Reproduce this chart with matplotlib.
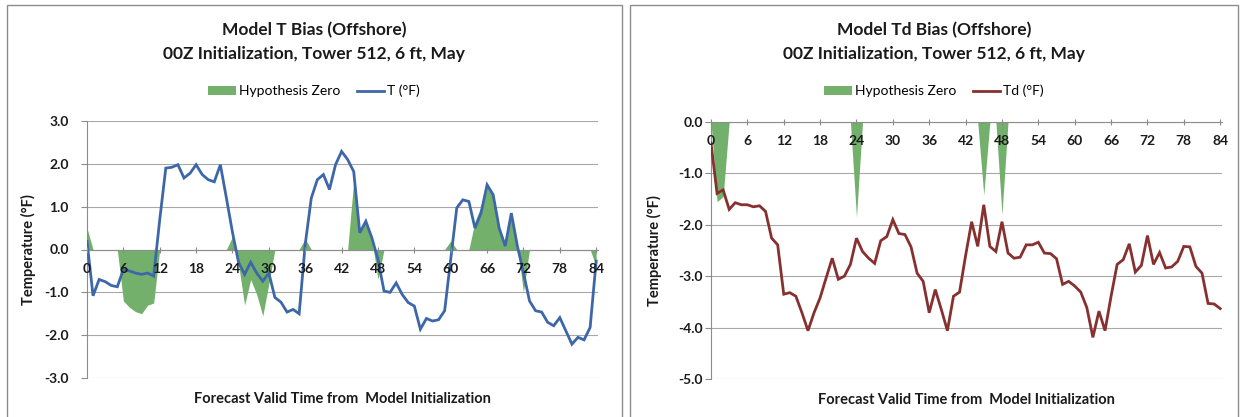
import matplotlib
matplotlib.use("Agg")
import matplotlib.pyplot as plt
from matplotlib.patches import Rectangle, Patch
from matplotlib.lines import Line2D
import numpy as np

plt.rcParams['font.family'] = ['Lato', 'DejaVu Sans']

# forecast hour 0..84, one value per hour
hours = np.arange(85)

t_bias = [0.19, -1.08, -0.70, -0.75, -0.84, -0.87, -0.47, -0.50, -0.55, -0.58,
          -0.55, -0.62, 0.70, 1.90, 1.92, 1.98, 1.67, 1.78, 1.98, 1.75,
          1.63, 1.58, 1.98, 1.20, 0.40, -0.30, -0.58, -0.30, -0.55, -0.74,
          -0.55, -1.12, -1.23, -1.46, -1.40, -1.50, 0.12, 1.20, 1.63, 1.75,
          1.40, 1.98, 2.29, 2.10, 1.82, 0.39, 0.66, 0.27, -0.23, -0.97,
          -1.00, -0.78, -1.05, -1.24, -1.32, -1.86, -1.61, -1.67, -1.64, -1.43,
          -0.23, 0.97, 1.16, 1.12, 0.50, 0.85, 1.51, 1.28, 0.50, 0.08,
          0.85, 0.08, -0.54, -1.20, -1.43, -1.46, -1.70, -1.78, -1.59, -1.90,
          -2.21, -2.05, -2.11, -1.82, -0.27]

t_hyp = [0.50, 0, 0, 0, 0, 0, -1.20, -1.35, -1.45, -1.50,
         -1.30, -1.25, 0, 0, 0, 0, 0, 0, 0, 0,
         0, 0, 0, 0, 0.30, -0.35, -1.30, -0.70, -1.05, -1.55,
         -0.80, 0, 0, 0, 0, 0, 0.25, 0, 0, 0,
         0, 0, 0, 0, 1.60, 0.40, 0.65, 0.25, -0.70, 0,
         0, 0, 0, 0, 0, 0, 0, 0, 0, 0,
         0.20, 0, 0, 0, 0.65, 1.00, 1.55, 1.30, 0.50, 0.10,
         0.85, 0.10, -1.00, 0, 0, 0, 0, 0, 0, 0,
         0, 0, 0, 0, -0.40]

td_bias = [-0.41, -1.39, -1.32, -1.70, -1.57, -1.61, -1.61, -1.65, -1.63, -1.74,
           -2.26, -2.39, -3.35, -3.32, -3.39, -3.71, -4.06, -3.71, -3.42, -3.03,
           -2.65, -3.06, -3.00, -2.77, -2.26, -2.52, -2.65, -2.75, -2.31, -2.23,
           -1.90, -2.17, -2.19, -2.43, -2.94, -3.10, -3.71, -3.26, -3.65, -4.06,
           -3.39, -3.31, -2.60, -1.94, -2.42, -1.61, -2.42, -2.52, -1.94, -2.55,
           -2.65, -2.63, -2.39, -2.39, -2.34, -2.55, -2.56, -2.66, -3.16, -3.10,
           -3.19, -3.31, -3.61, -4.19, -3.68, -4.06, -3.39, -2.77, -2.68, -2.37,
           -2.92, -2.79, -2.21, -2.77, -2.54, -2.84, -2.82, -2.71, -2.42, -2.43,
           -2.81, -2.94, -3.53, -3.54, -3.63]

td_hyp = np.zeros(85)
td_hyp[[1, 2, 24, 45, 48]] = [-1.55, -1.45, -1.85, -1.42, -1.80]

xticks = np.arange(0, 85, 6)

green = '#72b06c'
grid_c = '#a8a8a8'
txt = '#1a1a1a'

fig = plt.figure(figsize=(12.42, 4.17), dpi=100)
W, H = 1242, 417

# chart frames
for x0, x1 in [(7, 622), (630, 1238)]:
    fig.patches.append(Rectangle((x0 / W, -0.02), (x1 - x0) / W, 1 - 5 / H + 0.02,
                                 transform=fig.transFigure, fill=False,
                                 edgecolor='#8c8c8c', lw=1.0))


def panel(rect, yv, hyp, color, ylim, yticks, title, name, ypad, cx):
    ax = fig.add_axes(rect)
    ax.fill_between(hours, hyp, 0, color=green, lw=0, zorder=2)
    ax.plot(hours, yv, color=color, lw=2.0, zorder=3, solid_joinstyle='miter')
    ax.set_xlim(0, 84.3)
    ax.set_ylim(*ylim)
    ax.set_yticks(yticks)
    ax.set_yticklabels([f'{v:.1f}' for v in yticks])
    ax.set_xticks(xticks)
    ax.set_xticklabels([str(v) for v in xticks])
    for v in yticks:
        ax.axhline(v, color=grid_c, lw=0.8, zorder=1)
    for s in ['top', 'right']:
        ax.spines[s].set_visible(False)
    ax.spines['left'].set_color('#8c8c8c')
    ax.spines['bottom'].set_color('#8c8c8c')
    ax.spines['bottom'].set_position(('data', 0))
    ax.xaxis.set_zorder(4)
    ax.tick_params(axis='x', direction='inout', length=5, color='#8c8c8c',
                   labelsize=10, pad=7, labelcolor=txt)
    ax.tick_params(axis='y', direction='out', length=4, color='#8c8c8c',
                   labelsize=10, pad=ypad, labelcolor=txt)
    for lab in ax.get_yticklabels() + ax.get_xticklabels():
        lab.set_fontweight('bold')
    ax.set_ylabel('Temperature (°F)', fontsize=10.5, fontweight='bold', color=txt)
    ax.set_xlabel('Forecast Valid Time from  Model Initialization', fontsize=10.5,
                  fontweight='bold', color=txt)
    ax.xaxis.set_label_coords(0.5, -0.055)
    ax.patch.set_alpha(0)

    fig.text(cx / W, 1 - 30 / H, title[0], ha='center', va='center',
             fontsize=12.5, fontweight='bold', color=txt)
    fig.text(cx / W, 1 - 54 / H, title[1], ha='center', va='center',
             fontsize=12.5, fontweight='bold', color=txt)
    handles = [Patch(facecolor=green, edgecolor='none'),
               Line2D([], [], color=color, lw=2.0)]
    fig.legend(handles, ['Hypothesis Zero', name], loc='center',
               bbox_to_anchor=(cx / W, 1 - 91 / H), ncol=2, frameon=False,
               fontsize=10, handlelength=2.0, handleheight=0.6,
               columnspacing=1.2, handletextpad=0.2, prop={'weight': 'normal'})
    return ax


ax1 = panel([87 / W, 1 - 378 / H, 511 / W, 257 / H], t_bias, t_hyp, '#3d67a8',
            (-3, 3), [3.0, 2.0, 1.0, 0.0, -1.0, -2.0, -3.0],
            ('Model T Bias (Offshore)', '00Z Initialization, Tower 512, 6 ft, May'),
            'T (°F)', 9, 314)
ax1.yaxis.set_label_coords(-0.1, 0.5)

ax2 = panel([711 / W, 1 - 379 / H, 511 / W, 257 / H], td_bias, td_hyp, '#873030',
            (-5, 0), [0.0, -1.0, -2.0, -3.0, -4.0, -5.0],
            ('Model Td Bias (Offshore)', '00Z Initialization, Tower 512, 6 ft, May'),
            'Td (°F)', 2, 934)
ax2.yaxis.set_label_coords(-0.095, 0.5)

fig.savefig('out.png', dpi=100, facecolor='white')
